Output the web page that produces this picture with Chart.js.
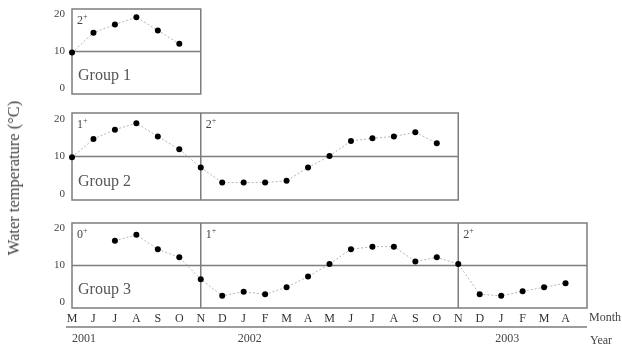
<!DOCTYPE html>
<html>
<head>
<meta charset="utf-8">
<script src="https://cdn.jsdelivr.net/npm/chart.js@4.4.1/dist/chart.umd.min.js"></script>
<style>
body { margin: 0; background: #fff; }
#wrap { position: relative; width: 622px; height: 349px; overflow: hidden; }
canvas { position: absolute; left: 0; }
#ytitle {
  position: absolute; left: 14px; top: 178px;
  transform: translate(-50%, -50%) rotate(-90deg);
  font: 16.5px 'Liberation Serif', serif; color: #444; white-space: nowrap;
}
</style>
</head>
<body>
<div id="wrap">
  <canvas id="g1" width="622" height="101" style="top:0px"></canvas>
  <canvas id="g2" width="622" height="103" style="top:104px"></canvas>
  <canvas id="g3" width="622" height="135" style="top:214px"></canvas>
  <div id="ytitle">Water temperature (°C)</div>
</div>
<script>
// May 2001 .. April 2003
const months = ['M','J','J','A','S','O','N','D','J','F','M','A','M','J','J','A','S','O','N','D','J','F','M','A']
const group1 = [9.7, 15.1, 17.3, 19.3, 15.7, 12.1]
const group2 = [9.8, 14.6, 17.1, 18.8, 15.3, 11.9, 7.1, 3.1, 3.1, 3.1, 3.6, 7.1,
                10.1, 14.1, 14.8, 15.3, 16.4, 13.5]
const group3 = [null, null, 16.7, 18.3, 14.4, 12.2, 6.3, 1.8, 2.9, 2.2, 4.1, 7.0,
                10.4, 14.4, 15.1, 15.1, 11.1, 12.2, 10.4, 2.2, 1.8, 3.0, 4.1, 5.2]
const yTicks = [0, 10, 20]
const years = ['2001', '2002', '2003']
const yearStart = [0, 8, 20]   // month index where each year's label sits

const serif = 'Liberation Serif'
const lineGrey = '#7d7d7d'

function framePlugin(cfg) {
  return {
    id: 'frame',
    beforeDatasetsDraw(chart) {
      const ctx = chart.ctx, a = chart.chartArea
      const x = chart.scales.x, y = chart.scales.y
      const right = x.getPixelForValue(cfg.end)
      ctx.save()
      ctx.strokeStyle = lineGrey
      ctx.lineWidth = 1.5
      ctx.strokeRect(a.left, a.top, right - a.left, a.bottom - a.top)
      const y10 = y.getPixelForValue(10)
      ctx.beginPath()
      ctx.moveTo(a.left, y10); ctx.lineTo(right, y10)
      cfg.splits.forEach(i => {
        const px = x.getPixelForValue(i)
        ctx.moveTo(px, a.top); ctx.lineTo(px, a.bottom)
      })
      ctx.stroke()

      // age class labels
      ctx.fillStyle = '#444'
      ctx.textBaseline = 'middle'
      cfg.ages.forEach(([i, d]) => {
        const px = x.getPixelForValue(i) + 5
        ctx.font = '12px ' + serif
        ctx.fillText(d, px, a.top + 12)
        const w = ctx.measureText(d).width
        ctx.font = '8px ' + serif
        ctx.fillText('+', px + w, a.top + 8)
      })

      ctx.font = '16px ' + serif
      ctx.fillStyle = '#555'
      ctx.fillText(cfg.name, a.left + 6, a.bottom - 18)
      ctx.restore()
    },
    afterDraw(chart) {
      if (!cfg.axis) return
      const ctx = chart.ctx, a = chart.chartArea, x = chart.scales.x
      ctx.save()
      ctx.strokeStyle = lineGrey
      ctx.lineWidth = 1.5
      ctx.beginPath()
      ctx.moveTo(a.left - 6, a.bottom + 19)
      ctx.lineTo(x.getPixelForValue(24), a.bottom + 19)
      ctx.stroke()
      ctx.fillStyle = '#444'
      ctx.textBaseline = 'middle'
      ctx.font = '12px ' + serif
      years.forEach((yr, k) => {
        const px = x.getPixelForValue(yearStart[k])
        if (k === 0) { ctx.textAlign = 'left'; ctx.fillText(yr, px, a.bottom + 31) }
        else { ctx.textAlign = 'center'; ctx.fillText(yr, px + 6, a.bottom + 31) }
      })
      ctx.textAlign = 'left'
      ctx.fillText('Month', a.right + 2, a.bottom + 10)
      ctx.fillText('Year', a.right + 3, a.bottom + 33)
      ctx.restore()
    }
  }
}

function panel(id, data, cfg) {
  return new Chart(document.getElementById(id), {
    type: 'line',
    data: {
      labels: months.concat(['']),
      datasets: [{
        data: data,
        borderColor: '#b5b5b5',
        borderWidth: 1,
        borderDash: [2, 2],
        pointBackgroundColor: '#000',
        pointBorderColor: '#000',
        pointRadius: 3,
        pointBorderWidth: 0,
        tension: 0,
        clip: false
      }]
    },
    options: {
      responsive: false,
      animation: false,
      layout: { padding: { top: 9, right: 35, bottom: cfg.bottom, left: 0 } },
      plugins: { legend: { display: false }, tooltip: { enabled: false } },
      scales: {
        x: {
          display: !!cfg.axis,
          offset: false,
          grid: { display: false, drawTicks: false },
          border: { display: false },
          ticks: {
            autoSkip: false, maxRotation: 0, padding: 4,
            color: '#333', font: { family: serif, size: 12 }
          },
          afterFit: s => { s.height = cfg.axis ? 20 : 0; s.paddingLeft = 0; s.paddingRight = 0 }
        },
        y: {
          min: -1.5, max: 21.5,
          grid: { display: false, drawTicks: false },
          border: { display: false },
          afterBuildTicks: s => { s.ticks = yTicks.map(v => ({ value: v })) },
          afterFit: s => { s.width = 72; s.paddingTop = 0; s.paddingBottom = 0 },
          ticks: { padding: 7, color: '#444', font: { family: serif, size: 11 } }
        }
      }
    },
    plugins: [framePlugin(cfg)]
  })
}

panel('g1', group1, { end: 6, splits: [], ages: [[0, '2']], name: 'Group 1', bottom: 7 })
panel('g2', group2, { end: 18, splits: [6], ages: [[0, '1'], [6, '2']], name: 'Group 2', bottom: 7 })
panel('g3', group3, { end: 24, splits: [6, 18], ages: [[0, '0'], [6, '1'], [18, '2']], name: 'Group 3', bottom: 21, axis: true })
</script>
</body>
</html>
